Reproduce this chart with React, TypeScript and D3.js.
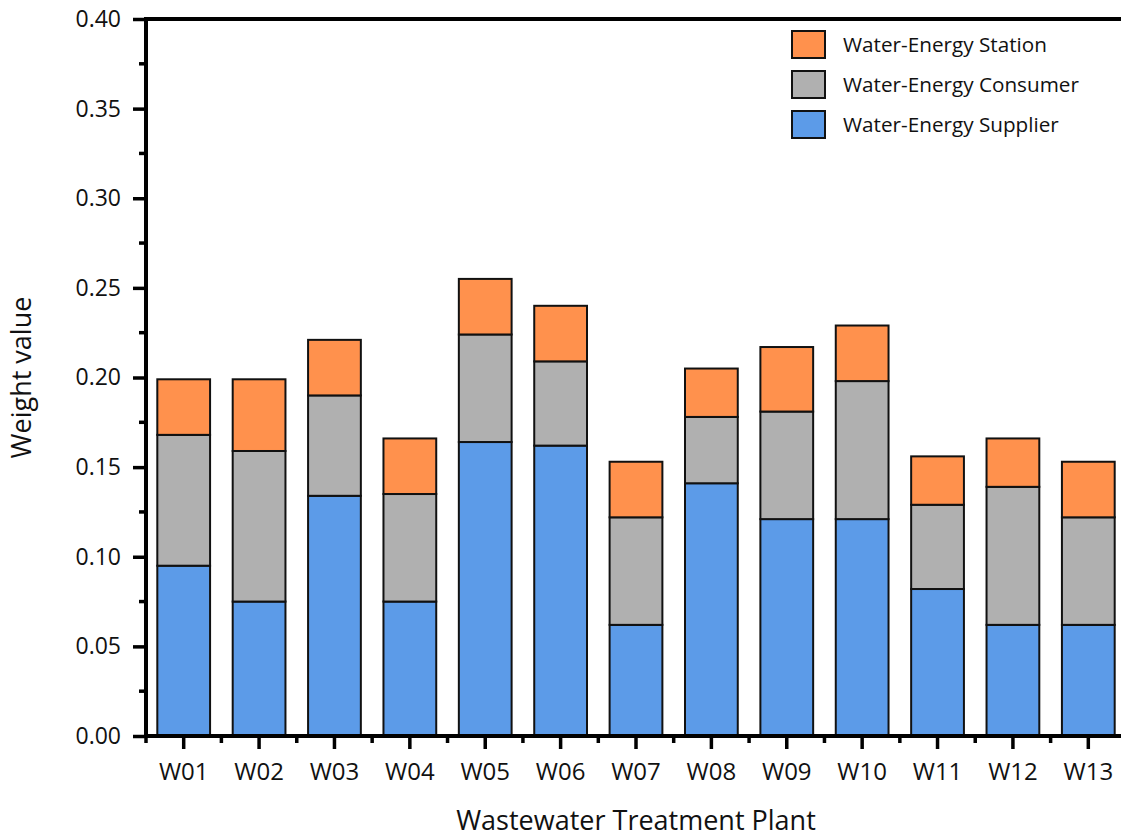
import { useEffect, useRef } from "react";
import * as d3 from "d3";

const plants = ["W01", "W02", "W03", "W04", "W05", "W06", "W07", "W08", "W09", "W10", "W11", "W12", "W13"];
const supplier = [0.095, 0.075, 0.134, 0.075, 0.164, 0.162, 0.062, 0.141, 0.121, 0.121, 0.082, 0.062, 0.062];
const consumer = [0.073, 0.084, 0.056, 0.06, 0.06, 0.047, 0.06, 0.037, 0.06, 0.077, 0.047, 0.077, 0.06];
const station = [0.031, 0.04, 0.031, 0.031, 0.031, 0.031, 0.031, 0.027, 0.036, 0.031, 0.027, 0.027, 0.031];
const yTicks = [0, 0.05, 0.1, 0.15, 0.2, 0.25, 0.3, 0.35, 0.4];

const seriesNames = ["Water-Energy Supplier", "Water-Energy Consumer", "Water-Energy Station"];
const colors = ["#5C9BE8", "#B0B0B0", "#FF914D"];

const width = 1121;
const height = 840;
const marginLeft = 146;
const marginTop = 19;
const plotRight = 1126; // plot runs past the picture edge
const chartBottomY = 736;
const font = "'Open Sans', sans-serif";

const App = () => {
  const xAxisRef = useRef<SVGGElement>(null);
  const yAxisRef = useRef<SVGGElement>(null);

  const table = plants.map((p, i) => ({ plant: p, s0: supplier[i], s1: consumer[i], s2: station[i] }));
  const stack = d3.stack<any>().keys(["s0", "s1", "s2"])(table);

  const xScale = d3.scaleBand().domain(plants).range([marginLeft, plotRight]).paddingInner(0.3).paddingOuter(0.15);
  const yScale = d3.scaleLinear().domain([0, 0.4]).range([chartBottomY, marginTop]);

  useEffect(() => {
    const xAxis = d3.axisBottom(xScale).tickSize(13).tickSizeOuter(0).tickPadding(11);
    const yAxis = d3.axisLeft(yScale).tickValues(yTicks).tickFormat(d3.format(".2f")).tickSize(13).tickSizeOuter(0).tickPadding(12);
    const gx = d3.select(xAxisRef.current!).call(xAxis);
    const gy = d3.select(yAxisRef.current!).call(yAxis);
    [gx, gy].forEach((g) => {
      g.select(".domain").remove();
      g.selectAll("line").attr("stroke", "#000").attr("stroke-width", 3.5);
      g.selectAll("text").attr("font-family", font).attr("fill", "#111");
    });
    gy.selectAll("text").attr("font-size", 23);
    gx.selectAll("text").attr("font-size", 24).attr("dy", "0.82em");
  }, []);

  const step = xScale.step();
  const minorX = d3.range(plants.length + 1).map((i) => marginLeft + i * step);
  const minorY = d3.range(8).map((i) => 0.025 + i * 0.05);

  return (
    <svg width={width} height={height} style={{ position: "absolute", left: 0, top: 0, background: "#fff" }}>
      <g className="bars">
        {stack.map((layer, k) =>
          layer.map((d, i) => (
            <rect
              key={`${k}-${i}`}
              x={xScale(plants[i])}
              y={yScale(d[1])}
              width={xScale.bandwidth()}
              height={yScale(d[0]) - yScale(d[1])}
              fill={colors[k]}
              stroke="#111"
              strokeWidth={2}
            />
          ))
        )}
      </g>
      {/* minor ticks */}
      <g stroke="#000" strokeWidth={3.5}>
        {minorY.map((v) => (
          <line key={v} x1={marginLeft - 7} x2={marginLeft} y1={yScale(v)} y2={yScale(v)} />
        ))}
        {minorX.map((x) => (
          <line key={x} x1={x} x2={x} y1={chartBottomY} y2={chartBottomY + 7} />
        ))}
      </g>
      <g ref={xAxisRef} transform={`translate(0,${chartBottomY})`} />
      <g ref={yAxisRef} transform={`translate(${marginLeft},0)`} />
      {/* frame */}
      <g stroke="#000" strokeWidth={4}>
        <line x1={marginLeft} x2={marginLeft} y1={marginTop - 2} y2={chartBottomY + 2} />
        <line x1={marginLeft - 2} x2={plotRight} y1={chartBottomY} y2={chartBottomY} />
        <line x1={marginLeft - 2} x2={plotRight} y1={marginTop} y2={marginTop} />
      </g>
      {/* legend */}
      <g className="legend">
        {[2, 1, 0].map((k, j) => (
          <g key={k} transform={`translate(792,${31 + j * 40})`}>
            <rect width={33} height={27} fill={colors[k]} stroke="#111" strokeWidth={2} />
            <text x={51} y={21} fontSize={20.7} fontFamily={font} fill="#111">
              {seriesNames[k]}
            </text>
          </g>
        ))}
      </g>
      <text x={(marginLeft + plotRight) / 2} y={830} textAnchor="middle" fontSize={27} fontFamily={font} fill="#111">
        Wastewater Treatment Plant
      </text>
      <text
        transform={`translate(31,${(marginTop + chartBottomY) / 2}) rotate(-90)`}
        textAnchor="middle"
        fontSize={27}
        fontFamily={font}
        fill="#111"
      >
        Weight value
      </text>
    </svg>
  );
};

export default App;
